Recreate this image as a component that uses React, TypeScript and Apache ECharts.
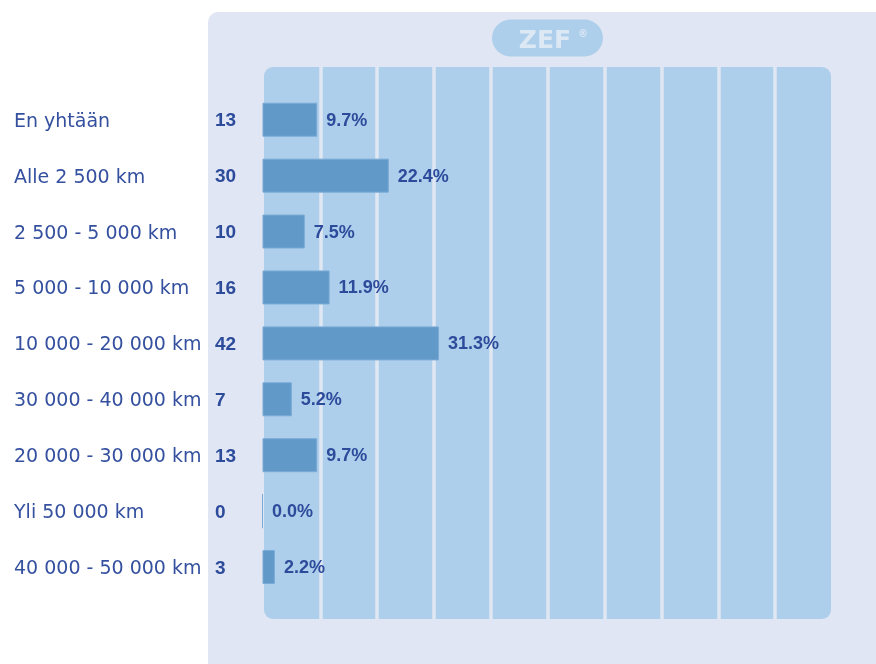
import React, { useEffect, useRef } from "react";
import * as echarts from "echarts";

const categories = [
  "En yhtään",
  "Alle 2 500 km",
  "2 500 - 5 000 km",
  "5 000 - 10 000 km",
  "10 000 - 20 000 km",
  "30 000 - 40 000 km",
  "20 000 - 30 000 km",
  "Yli 50 000 km",
  "40 000 - 50 000 km",
];
const counts = [13, 30, 10, 16, 42, 7, 13, 0, 3];
const percents = [9.7, 22.4, 7.5, 11.9, 31.3, 5.2, 9.7, 0.0, 2.2];
const brand = "ZEF";

export default function App() {
  const ref = useRef<HTMLDivElement>(null);
  useEffect(() => {
    if (!ref.current) return;
    const chart = echarts.init(ref.current, undefined, { renderer: "svg" });
    const textBlue = "#2d4b9b";
    chart.setOption({
      animation: false,
      graphic: [
        {
          type: "rect",
          z: -10,
          shape: { x: 208, y: 12, width: 700, height: 700, r: 10 },
          style: { fill: "#e0e6f3" },
        },
        {
          type: "rect",
          z: -9,
          shape: { x: 264, y: 67, width: 567, height: 552, r: 9 },
          style: { fill: "#aecfeb" },
        },
        {
          type: "rect",
          z: -8,
          shape: { x: 492, y: 19.5, width: 111, height: 37, r: 18.5 },
          style: { fill: "#aecfeb" },
        },
        {
          type: "text",
          z: -7,
          x: 545,
          y: 39,
          style: {
            text: brand,
            fill: "#dde8f5",
            font: "bold 25px 'DejaVu Sans'",
            align: "center",
            verticalAlign: "middle",
          },
        },
        {
          type: "text",
          z: -7,
          x: 583,
          y: 33,
          style: {
            text: "®",
            fill: "#dde8f5",
            font: "bold 10px 'DejaVu Sans'",
            align: "center",
            verticalAlign: "middle",
          },
        },
      ],
      grid: [
        { left: 263.5, right: 44, top: 67, bottom: 45 },
        { left: 262.5, right: 49.5, top: 91.75, bottom: 69 },
      ],
      xAxis: [
        {
          gridIndex: 0,
          type: "value",
          min: 0,
          max: 100,
          interval: 10,
          z: 1,
          axisLine: { show: false },
          axisTick: { show: false },
          axisLabel: { show: false },
          splitLine: {
            show: true,
            showMinLine: false,
            showMaxLine: false,
            lineStyle: { color: "#dfe7f3", width: 3.5 },
          },
        },
        {
          gridIndex: 1,
          type: "value",
          min: 0,
          max: 100,
          axisLine: { show: false },
          axisTick: { show: false },
          axisLabel: { show: false },
          splitLine: { show: false },
        },
      ],
      yAxis: [
        {
          gridIndex: 0,
          type: "category",
          data: categories,
          show: false,
        },
        {
          gridIndex: 1,
          type: "category",
          data: categories,
          inverse: true,
          axisLine: { show: false },
          axisTick: { show: false },
          splitLine: { show: false },
          axisLabel: {
            margin: 248.5,
            align: "left",
            verticalAlign: "middle",
            formatter: (value: string, index: number) =>
              `{n|${value}}{c|${counts[index]}}`,
            rich: {
              n: {
                width: 201,
                fontFamily: "DejaVu Sans",
                fontSize: 19,
                color: "#34509f",
              },
              c: {
                fontFamily: "Liberation Sans",
                fontWeight: "bold",
                fontSize: 19,
                color: textBlue,
              },
            },
          },
        },
      ],
      series: [
        {
          type: "bar",
          xAxisIndex: 1,
          yAxisIndex: 1,
          data: percents,
          barWidth: 34,
          itemStyle: {
            color: "#6199c8",
            borderColor: "#7aabd6",
            borderWidth: 1,
          },
          label: {
            show: true,
            position: "right",
            distance: 9,
            formatter: (p: any) => `${percents[p.dataIndex].toFixed(1)}%`,
            fontFamily: "Liberation Sans",
            fontWeight: "bold",
            fontSize: 18,
            color: textBlue,
          },
        },
      ],
    });
    return () => chart.dispose();
  }, []);
  return (
    <div
      ref={ref}
      style={{ position: "fixed", left: 0, top: 0, width: 876, height: 664 }}
    />
  );
}
